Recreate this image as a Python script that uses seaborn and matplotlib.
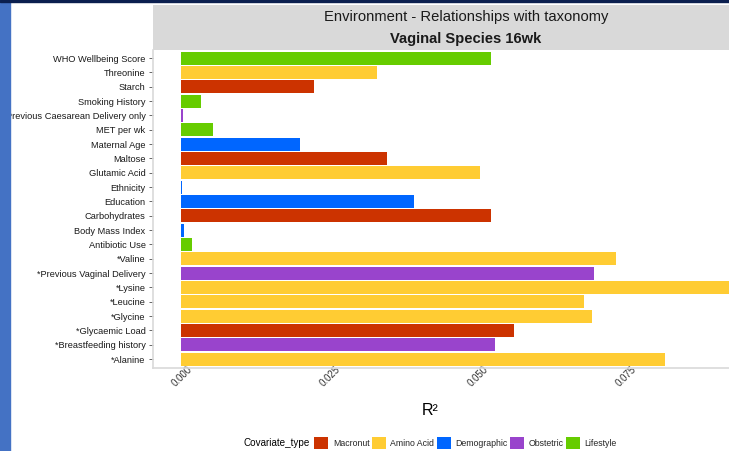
import seaborn as sns
import numpy as np
import pandas as pd
import matplotlib.pyplot as plt
from matplotlib.patches import Patch, Rectangle
from matplotlib.transforms import ScaledTranslation

# Covariates, top to bottom as shown
covariates = ["WHO Wellbeing Score", "Threonine", "Starch", "Smoking History",
              "Previous Caesarean Delivery only", "MET per wk", "Maternal Age",
              "Maltose", "Glutamic Acid", "Ethnicity", "Education", "Carbohydrates",
              "Body Mass Index", "Antibiotic Use", "*Valine",
              "*Previous Vaginal Delivery", "*Lysine", "*Leucine", "*Glycine",
              "*Glycaemic Load", "*Breastfeeding history", "*Alanine"]
r2 = [0.0524, 0.0331, 0.0225, 0.0033,
      0.0003, 0.0054, 0.0201,
      0.0348, 0.0505, 0.0002, 0.0393, 0.0524,
      0.0005, 0.0018, 0.0734,
      0.0697, 0.0963, 0.0681, 0.0695,
      0.0562, 0.0530, 0.0818]
cov_type = ["Lifestyle", "Amino Acid", "Macronut", "Lifestyle",
            "Obstetric", "Lifestyle", "Demographic",
            "Macronut", "Amino Acid", "Demographic", "Demographic", "Macronut",
            "Demographic", "Lifestyle", "Amino Acid",
            "Obstetric", "Amino Acid", "Amino Acid", "Amino Acid",
            "Macronut", "Obstetric", "Amino Acid"]

type_order = ["Macronut", "Amino Acid", "Demographic", "Obstetric", "Lifestyle"]
type_colors = ["#CC3300", "#FFCC33", "#0066FF", "#9944CC", "#66CC00"]
palette = dict(zip(type_order, type_colors))

x_ticks = [0.0, 0.025, 0.05, 0.075]
x_labels = ["0.000", "0.025", "0.050", "0.075"]

df = pd.DataFrame({"Covariate": covariates, "R2": r2, "Covariate_type": cov_type})

sns.set_style("white")
plt.rcParams["font.family"] = ["Liberation Sans", "DejaVu Sans"]

W, H = 729, 451
fig = plt.figure(figsize=(W / 100, H / 100), dpi=100)

# screenshot decoration: blue side bar and navy top line
fig.patches.append(Rectangle((0, 0), 10 / W, 1, transform=fig.transFigure,
                             color="#4472C4", zorder=0))
fig.patches.append(Rectangle((0, 1 - 2 / H), 1, 2 / H, transform=fig.transFigure,
                             color="#0B1F4F", zorder=0))

rmax = max(r2)
xlo, xhi = -0.05 * rmax, 1.05 * rmax
px_per_unit = 5920
left_px = 152.5
width_px = (xhi - xlo) * px_per_unit
top_px, bottom_px = 49.5, 367.7
height_px = bottom_px - top_px

ax = fig.add_axes([left_px / W, 1 - bottom_px / H, width_px / W, height_px / H])
sns.barplot(data=df, y="Covariate", x="R2", hue="Covariate_type", order=covariates,
            hue_order=type_order, palette=palette, dodge=False, width=0.9,
            saturation=1, orient="h", linewidth=0, legend=False, ax=ax)
ax.set_xlim(xlo, xhi)
ax.set_ylim(len(covariates) - 1 + 0.6, -0.6)
ax.set_xticks(x_ticks)
ax.set_xticklabels(x_labels, rotation=45, ha="right", va="top",
                   rotation_mode="anchor", fontsize=7, color="#333333")
ax.tick_params(axis="x", length=0, pad=-2.2)
shift = ScaledTranslation(6 / 100, 0, fig.dpi_scale_trans)
for lab in ax.get_xticklabels():
    lab.set_transform(lab.get_transform() + shift)
ax.tick_params(axis="y", length=3, width=0.6, color="#4D4D4D", labelsize=6.7,
               labelcolor="#1A1A1A", pad=2, left=True)
ax.set_ylabel("")
ax.set_xlabel("R²", fontsize=11.5, color="#000000")
ax.xaxis.set_label_coords((430 - left_px) / width_px, (bottom_px - 403) / height_px)
for side in ["top", "right"]:
    ax.spines[side].set_visible(False)
for side in ["left", "bottom"]:
    ax.spines[side].set_color("#D9D9D9")
    ax.spines[side].set_linewidth(1.2)

# facet strip
sax = fig.add_axes([left_px / W, 1 - top_px / H, width_px / W, (top_px - 5) / H])
sax.set_facecolor("#D9D9D9")
sax.set_xticks([])
sax.set_yticks([])
for s in sax.spines.values():
    s.set_visible(False)
sax.text(0.5, 0.74, "Environment - Relationships with taxonomy", ha="center",
         va="center", fontsize=10.65, color="#1A1A1A", transform=sax.transAxes)
sax.text(0.5, 0.24, "Vaginal Species 16wk", ha="center", va="center",
         fontsize=10.65, fontweight="bold", color="#1A1A1A", transform=sax.transAxes)

# legend
handles = [Patch(facecolor=palette[t], edgecolor="none") for t in type_order]
fig.text(243 / W, 1 - 443 / H, "Covariate_type", ha="left", va="center",
         fontsize=7.1, color="#000000")
fig.legend(handles, type_order, loc="center left", bbox_to_anchor=(314 / W, 1 - 443 / H),
           ncol=5, frameon=False, fontsize=6.3, handlelength=1.6, handleheight=1.6,
           handletextpad=0.55, columnspacing=0.25, borderpad=0, borderaxespad=0)

fig.savefig("out.png", dpi=100)
